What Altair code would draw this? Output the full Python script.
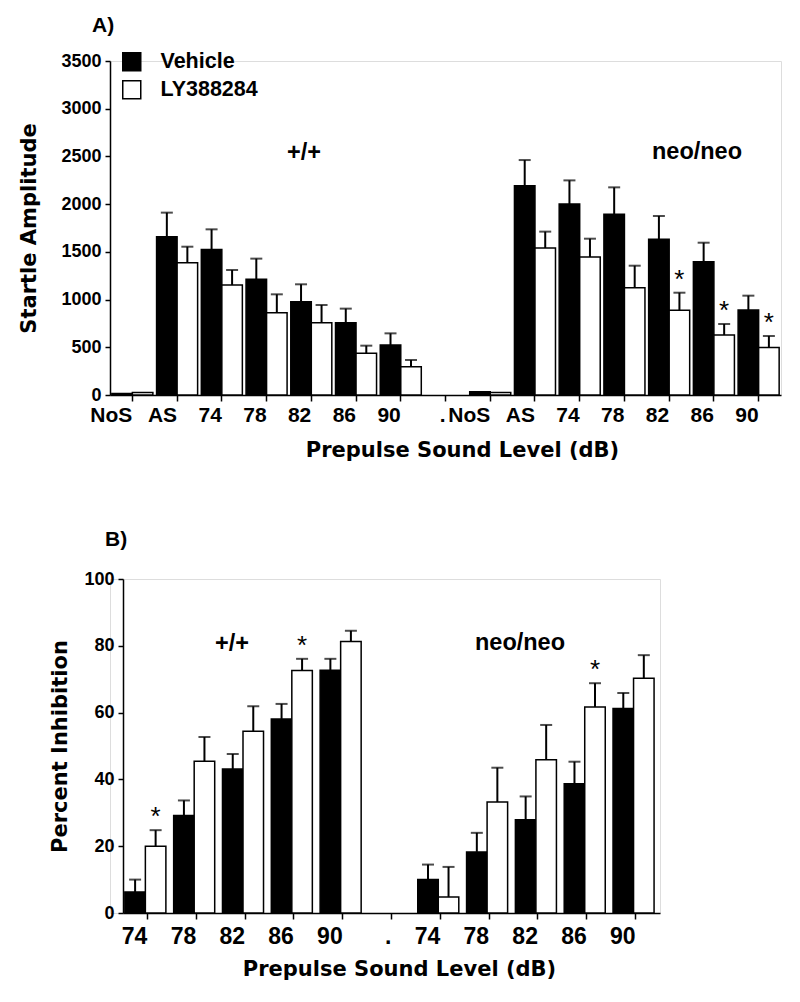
import altair as alt
import pandas as pd

FONT = "Liberation Sans"
TFONT = "DejaVu Sans"

# ---------------- Panel A data (Startle amplitude) ----------------
a_levels = ["NoS", "AS", "74", "78", "82", "86", "90"]
a_wt_vehicle = [15, 1659, 1526, 1212, 978, 758, 524]
a_wt_vehicle_sem = [0, 252, 210, 217, 182, 147, 122]
a_wt_ly = [25, 1387, 1153, 863, 758, 437, 297]
a_wt_ly_sem = [0, 167, 157, 192, 185, 80, 70]
a_neo_vehicle = [35, 2193, 2001, 1893, 1631, 1397, 891]
a_neo_vehicle_sem = [0, 269, 248, 283, 245, 199, 150]
a_neo_ly = [25, 1540, 1446, 1125, 887, 629, 499]
a_neo_ly_sem = [0, 172, 192, 230, 185, 115, 119]
a_neo_ly_sig = ["82", "86", "90"]

# ---------------- Panel B data (Percent inhibition) ----------------
b_levels = ["74", "78", "82", "86", "90"]
b_wt_vehicle = [6.3, 29.2, 43.1, 58.1, 72.7]
b_wt_vehicle_sem = [3.7, 4.5, 4.5, 4.5, 3.4]
b_wt_ly = [20.0, 45.4, 54.4, 72.6, 81.3]
b_wt_ly_sem = [4.8, 7.3, 7.5, 3.5, 3.2]
b_neo_vehicle = [10.0, 18.3, 27.9, 38.7, 61.2]
b_neo_vehicle_sem = [4.5, 5.7, 7.0, 6.6, 4.7]
b_neo_ly = [4.8, 33.2, 45.9, 61.7, 70.3]
b_neo_ly_sem = [9.0, 10.3, 10.4, 7.1, 6.9]
b_wt_ly_sig = ["74", "86"]
b_neo_ly_sig = ["86"]

treatments = ["Vehicle", "LY388284"]


def build(levels, wt_v, wt_v_s, wt_l, wt_l_s, neo_v, neo_v_s, neo_l, neo_l_s,
          wt_sig, neo_sig):
    rows = []
    for geno, v, vs, l, ls, sig in [("wt", wt_v, wt_v_s, wt_l, wt_l_s, wt_sig),
                                     ("neo", neo_v, neo_v_s, neo_l, neo_l_s, neo_sig)]:
        for i, lev in enumerate(levels):
            rows.append(dict(key=f"{geno}|{lev}", treatment="Vehicle",
                             mean=v[i], top=v[i] + vs[i], sem=vs[i], sig=False))
            rows.append(dict(key=f"{geno}|{lev}", treatment="LY388284",
                             mean=l[i], top=l[i] + ls[i], sem=ls[i], sig=lev in sig))
    domain = [f"wt|{l}" for l in levels] + ["gap|."] + [f"neo|{l}" for l in levels]
    return pd.DataFrame(rows), domain


def text_layer(txt, x, y, size, font=FONT, weight="bold", align="center"):
    return alt.Chart(pd.DataFrame({"t": [txt]})).mark_text(
        font=font, fontSize=size, fontWeight=weight, align=align,
        baseline="middle", color="black"
    ).encode(x=alt.value(x), y=alt.value(y), text="t:N")


def panel(df, domain, ymax, ystep, ylabel_every, ytitle, xrange, off_pad,
          label_size, label_pad, xtitle_pad, ytitle_pad, xtitle_x, yoffset=0, legend=False):
    xscale = alt.Scale(domain=domain, range=xrange, paddingInner=0, paddingOuter=0)
    xoff = alt.XOffset("treatment:N",
                       scale=alt.Scale(domain=treatments, paddingInner=0, paddingOuter=off_pad))
    xaxis = alt.Axis(
        title="Prepulse Sound Level (dB)", labelExpr="split(datum.label, '|')[1]",
        bandPosition=0.5,
        labelAngle=0, labelFont=FONT, labelFontSize=label_size, labelFontWeight="bold",
        labelColor="black", labelPadding=label_pad, tickSize=6, tickWidth=1.5,
        tickColor="black", domainColor="black", domainWidth=1.5, titleFont=TFONT,
        titleFontSize=21, titleFontWeight="bold", titleColor="black",
        titlePadding=xtitle_pad, titleX=xtitle_x,
    )
    yvals = list(range(0, ymax + 1, ystep))
    yaxis = alt.Axis(
        title=ytitle, values=yvals, format="d", offset=yoffset,
        labelExpr=f"datum.value % {ylabel_every} == 0 ? datum.label : ''",
        labelFont=FONT, labelFontSize=18, labelFontWeight="bold", labelColor="black",
        labelPadding=4, tickSize=5, tickWidth=1.5, tickColor="black",
        domainColor="black", domainWidth=1.5, grid=False,
        titleFont=TFONT, titleFontSize=21, titleFontWeight="bold", titleColor="black",
        titlePadding=ytitle_pad,
    )
    yscale = alt.Scale(domain=[0, ymax], nice=False)
    base = alt.Chart(df)
    if legend:
        leg = alt.Legend(
            title=None, orient="none", legendX=11, legendY=-10, symbolType="square",
            symbolSize=324, symbolStrokeColor="black", symbolStrokeWidth=1.5,
            labelFont=FONT, labelFontSize=21.5, labelFontWeight="bold", labelColor="black",
            labelOffset=18, rowPadding=3, padding=0,
        )
    else:
        leg = None
    fill = alt.Fill("treatment:N", scale=alt.Scale(domain=treatments, range=["black", "white"]),
                    legend=leg)
    bars = base.mark_bar(stroke="black", strokeWidth=1.5).encode(
        x=alt.X("key:N", scale=xscale, axis=xaxis, sort=domain),
        xOffset=xoff,
        y=alt.Y("mean:Q", scale=yscale, axis=yaxis),
        fill=fill,
    )
    errdf = base.transform_filter("datum.sem > 0")
    rules = errdf.mark_rule(color="black", strokeWidth=2).encode(
        x=alt.X("key:N", scale=xscale, sort=domain), xOffset=xoff,
        y=alt.Y("mean:Q", scale=yscale), y2="top:Q",
    )
    caps = errdf.mark_tick(color="black", thickness=2, size=12, orient="horizontal").encode(
        x=alt.X("key:N", scale=xscale, sort=domain), xOffset=xoff,
        y=alt.Y("top:Q", scale=yscale),
    )
    stars = base.transform_filter("datum.sig").mark_text(
        text="*", font=FONT, fontSize=26, color="black", baseline="alphabetic", dy=-5,
    ).encode(
        x=alt.X("key:N", scale=xscale, sort=domain), xOffset=xoff,
        y=alt.Y("top:Q", scale=yscale),
    )
    return bars, rules, caps, stars


dfa, doma = build(a_levels, a_wt_vehicle, a_wt_vehicle_sem, a_wt_ly, a_wt_ly_sem,
                  a_neo_vehicle, a_neo_vehicle_sem, a_neo_ly, a_neo_ly_sem,
                  [], a_neo_ly_sig)
dfb, domb = build(b_levels, b_wt_vehicle, b_wt_vehicle_sem, b_wt_ly, b_wt_ly_sem,
                  b_neo_vehicle, b_neo_vehicle_sem, b_neo_ly, b_neo_ly_sem,
                  b_wt_ly_sig, b_neo_ly_sig)

WA, HA = 671, 334
WB, HB = 550, 334
B_SHIFT = 13

ba, ra, ca, sa = panel(dfa, doma, 3500, 250, 500, "Startle Amplitude", [0, WA], 0.09,
                       21, 14, 14, 21, 352, legend=True)
chart_a = alt.layer(
    ra, ca, ba, sa,
    text_layer("A)", -18, -35, 21, align="left"),
    text_layer("+/+", 194, 92, 23.5),
    text_layer("neo/neo", 587, 91, 23.5),
).properties(width=WA, height=HA)

bb, rb, cb, sb = panel(dfb, domb, 100, 10, 20, "Percent Inhibition", [B_SHIFT, WB],
                       0.143, 23, 17, 10, 13, 289, yoffset=-B_SHIFT)
chart_b = alt.layer(
    rb, cb, bb, sb,
    text_layer("B)", -5, -39, 21, align="left"),
    text_layer("+/+", 122, 65, 23.5),
    text_layer("neo/neo", 410, 64, 23.5),
).properties(width=WB, height=HB)

chart = alt.vconcat(chart_a, chart_b, spacing=67).configure_view(stroke=None).configure(
    background="white", padding={"left": 10, "top": 6, "right": 5, "bottom": 5}
)

chart.save("out.html", embed_options={"renderer": "svg", "actions": False})
